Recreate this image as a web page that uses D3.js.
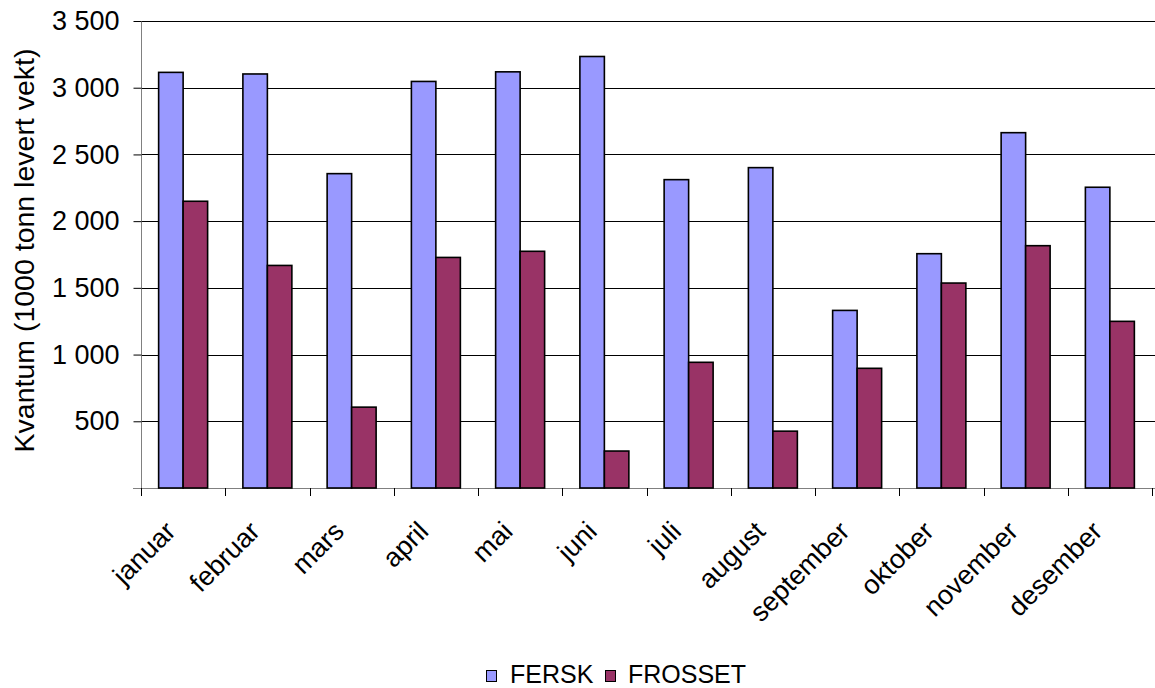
<!DOCTYPE html>
<html>
<head>
<meta charset="utf-8">
<script src="https://cdn.jsdelivr.net/npm/d3@7"></script>
<style>
  html, body { margin: 0; padding: 0; background: #fff; }
  svg { display: block; font-family: "Liberation Sans", Arial, sans-serif; }
</style>
</head>
<body>
<svg id="chart" width="1155" height="688"></svg>
<script>
// Monthly quantities, fresh vs frozen (1000 tonn levert vekt)
const months = ["januar", "februar", "mars", "april", "mai", "juni", "juli", "august", "september", "oktober", "november", "desember"];
const seriesNames = ["FERSK", "FROSSET"];
const fersk = [3115, 3103, 2356, 3047, 3119, 3234, 2311, 2401, 1331, 1756, 2663, 2254];
const frosset = [2149, 1668, 606, 1728, 1774, 277, 942, 426, 897, 1536, 1816, 1249];
const yTicks = [500, 1000, 1500, 2000, 2500, 3000, 3500];
const colors = ["#9999FF", "#993366"];
const yTitle = "Kvantum (1000 tonn levert vekt)";

const svg = d3.select("#chart");
const plotLeft = 141, plotRight = 1152, plotTop = 21, plotBottom = 488;
const axisFont = 27, titleFont = 28.5, legendFont = 25;

const x0 = d3.scaleBand().domain(months).range([plotLeft, plotRight]).padding(0);
const x1 = d3.scaleBand().domain(seriesNames).range([0, x0.bandwidth()]).paddingInner(0).paddingOuter(0.72);
const y = d3.scaleLinear().domain([0, 3500]).range([plotBottom, plotTop]);

// thousands separated by a space
const fmt = v => d3.format(",")(v).replace(",", " ");

// gridlines
svg.append("g")
  .selectAll("line")
  .data(yTicks)
  .join("line")
  .attr("x1", plotLeft).attr("x2", plotRight + 3)
  .attr("y1", d => Math.round(y(d)) + 0.5).attr("y2", d => Math.round(y(d)) + 0.5)
  .attr("stroke", "#000").attr("stroke-width", 1);

// y axis
const yAxis = svg.append("g")
  .attr("transform", `translate(${plotLeft + 0.5},0)`)
  .call(d3.axisLeft(y).tickValues([0].concat(yTicks)).tickSize(8).tickPadding(14).tickFormat(d => d === 0 ? "" : fmt(d)));
yAxis.select(".domain").attr("stroke", "#808080").attr("d", `M0,${plotBottom}V${plotTop}`);
yAxis.selectAll(".tick line").attr("stroke", "#000");
yAxis.selectAll(".tick text")
  .attr("font-size", axisFont).attr("fill", "#000")
  .attr("font-family", "'Liberation Sans', Arial, sans-serif")
  .style("white-space", "pre");

// x axis
const xAxis = svg.append("g")
  .attr("transform", `translate(0,${plotBottom + 0.5})`)
  .call(d3.axisBottom(x0).tickSize(0).tickFormat(""));
xAxis.select(".domain").attr("stroke", "#808080").attr("d", `M${plotLeft - 8},0H${plotRight + 3}`);
xAxis.selectAll(".tick").remove();

// category boundary ticks
const bounds = months.map(m => x0(m)).concat([plotRight]);
svg.append("g")
  .selectAll("line")
  .data(bounds)
  .join("line")
  .attr("x1", d => Math.round(d) + 0.5).attr("x2", d => Math.round(d) + 0.5)
  .attr("y1", plotBottom).attr("y2", plotBottom + 8)
  .attr("stroke", "#000");

// bars
const groups = svg.append("g")
  .selectAll("g")
  .data(months.map((m, i) => ({ month: m, values: [fersk[i], frosset[i]] })))
  .join("g")
  .attr("transform", d => `translate(${x0(d.month)},0)`);

groups.selectAll("rect")
  .data(d => d.values.map((v, j) => ({ key: seriesNames[j], value: v, j })))
  .join("rect")
  .attr("x", d => x1(d.key))
  .attr("width", x1.bandwidth())
  .attr("y", d => y(d.value))
  .attr("height", d => y(0) - y(d.value))
  .attr("fill", d => colors[d.j])
  .attr("stroke", "#000")
  .attr("stroke-width", 1.6);

// category labels, rotated
svg.append("g")
  .selectAll("text")
  .data(months)
  .join("text")
  .attr("transform", d => `translate(${x0(d) + x0.bandwidth() / 2 - 6},${plotBottom + 45}) rotate(-45)`)
  .attr("text-anchor", "end")
  .attr("font-size", axisFont)
  .attr("fill", "#000")
  .text(d => d);

// y axis title
svg.append("text")
  .attr("transform", `translate(34,250.5) rotate(-90)`)
  .attr("text-anchor", "middle")
  .attr("font-size", titleFont)
  .attr("fill", "#000")
  .text(yTitle);

// legend
const legendItems = [
  { name: seriesNames[0], color: colors[0], sx: 486, tx: 510 },
  { name: seriesNames[1], color: colors[1], sx: 605, tx: 628 }
];
const legend = svg.append("g");
legend.selectAll("rect")
  .data(legendItems)
  .join("rect")
  .attr("x", d => d.sx + 0.5).attr("y", 670.5)
  .attr("width", 10).attr("height", 11)
  .attr("fill", d => d.color)
  .attr("stroke", "#000").attr("stroke-width", 1);
legend.selectAll("text")
  .data(legendItems)
  .join("text")
  .attr("x", d => d.tx).attr("y", 683)
  .attr("font-size", legendFont)
  .attr("fill", "#000")
  .text(d => d.name);
</script>
</body>
</html>
